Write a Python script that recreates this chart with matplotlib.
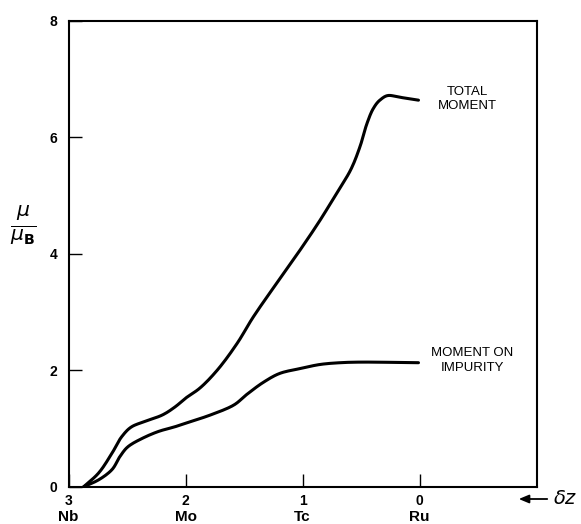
import matplotlib
matplotlib.use("Agg")
import matplotlib.pyplot as plt
import numpy as np

# Moment vs. valence difference of the impurity (x axis runs 3 -> -1)
total_dz = [2.87, 2.745, 2.63, 2.545, 2.46, 2.35, 2.20, 2.09, 2.00, 1.88, 1.73,
            1.56, 1.42, 1.16, 1.02, 0.85, 0.71, 0.59, 0.51, 0.45, 0.395,
            0.34, 0.27, 0.17, 0.01]
total_mu = [0.00, 0.23, 0.57, 0.86, 1.03, 1.12, 1.23, 1.37, 1.52, 1.69, 2.00,
            2.46, 2.92, 3.67, 4.07, 4.58, 5.04, 5.44, 5.84, 6.24, 6.50,
            6.64, 6.72, 6.69, 6.64]

impurity_dz = [2.87, 2.745, 2.63, 2.56, 2.49, 2.37, 2.23, 2.09, 2.00, 1.79,
               1.59, 1.48, 1.33, 1.19, 1.02, 0.85, 0.68, 0.51, 0.01]
impurity_mu = [0.00, 0.115, 0.29, 0.52, 0.69, 0.83, 0.95, 1.03, 1.09, 1.23,
               1.40, 1.58, 1.80, 1.95, 2.03, 2.10, 2.13, 2.14, 2.13]

x_ticks = [3, 2, 1, 0]
x_tick_labels = ["3", "2", "1", "0"]
elements = ["Nb", "Mo", "Tc", "Ru"]
y_ticks = [0, 2, 4, 6, 8]


def smooth_path(xs, ys, steps=12):
    """Centripetal Catmull-Rom curve drawn through the given points."""
    p = np.column_stack([xs, ys]).astype(float)
    p = np.vstack([2 * p[0] - p[1], p, 2 * p[-1] - p[-2]])
    out = [p[1]]
    for i in range(1, len(p) - 2):
        p0, p1, p2, p3 = p[i - 1], p[i], p[i + 1], p[i + 2]
        def tj(ti, a, b):
            return ti + np.sqrt(np.linalg.norm(b - a)) + 1e-9
        t0 = 0.0
        t1 = tj(t0, p0, p1)
        t2 = tj(t1, p1, p2)
        t3 = tj(t2, p2, p3)
        for t in np.linspace(t1, t2, steps + 1)[1:]:
            a1 = (t1 - t) / (t1 - t0) * p0 + (t - t0) / (t1 - t0) * p1
            a2 = (t2 - t) / (t2 - t1) * p1 + (t - t1) / (t2 - t1) * p2
            a3 = (t3 - t) / (t3 - t2) * p2 + (t - t2) / (t3 - t2) * p3
            b1 = (t2 - t) / (t2 - t0) * a1 + (t - t0) / (t2 - t0) * a2
            b2 = (t3 - t) / (t3 - t1) * a2 + (t - t1) / (t3 - t1) * a3
            out.append((t2 - t) / (t2 - t1) * b1 + (t - t1) / (t2 - t1) * b2)
    out = np.array(out)
    return out[:, 0], out[:, 1]


plt.rcParams["font.family"] = ["Liberation Sans", "DejaVu Sans"]

W, H = 581, 524
fig = plt.figure(figsize=(W / 100, H / 100), dpi=100)
ax = fig.add_axes([68.5 / W, 1 - 486.7 / H, (536.7 - 68.5) / W, (486.7 - 21) / H])

lw = 2.2
for xs, ys in [(total_dz, total_mu), (impurity_dz, impurity_mu)]:
    sx, sy = smooth_path(xs, ys)
    ax.plot(sx, sy, color="black", lw=lw, solid_joinstyle="round",
            solid_capstyle="round")

ax.set_xlim(3, -1)
ax.set_ylim(0, 8)

for s in ax.spines.values():
    s.set_linewidth(1.5)

ax.set_xticks(x_ticks)
ax.set_xticklabels(x_tick_labels)
ax.set_yticks(y_ticks)
ax.tick_params(direction="in", length=9.5, width=1.0, top=False, right=False,
               labelsize=10)
ax.tick_params(axis="x", pad=5)
ax.tick_params(axis="y", pad=8)
for lab in ax.get_xticklabels() + ax.get_yticklabels():
    lab.set_fontweight("bold")

# Element names under the tick numbers
for xv, name in zip(x_ticks, elements):
    ax.text(xv, -0.065, name, transform=ax.get_xaxis_transform(),
            ha="center", va="center", fontsize=11, fontweight="bold")

# Curve labels
ax.text(-0.41, 6.66, "TOTAL\nMOMENT", fontsize=9.5,
        ha="center", va="center", linespacing=1.3)
ax.text(-0.45, 2.17, "MOMENT ON\nIMPURITY", fontsize=9.5,
        ha="center", va="center", linespacing=1.25)

# y label as a fraction
fig.text(23 / W, 1 - 225 / H, r"$\frac{\mu}{\mu_\mathbf{B}}$", fontsize=21,
         ha="center", va="center")

# direction arrow for delta z
ay = 1 - 499 / H
fig.add_artist(matplotlib.patches.FancyArrowPatch(
    (550 / W, ay), (516 / W, ay), transform=fig.transFigure,
    arrowstyle="-|>,head_length=6,head_width=2.5", color="black", lw=1.3))
fig.text(553 / W, ay, r"$\delta z$", fontsize=14, ha="left", va="center")

fig.savefig("out.png", dpi=100)
